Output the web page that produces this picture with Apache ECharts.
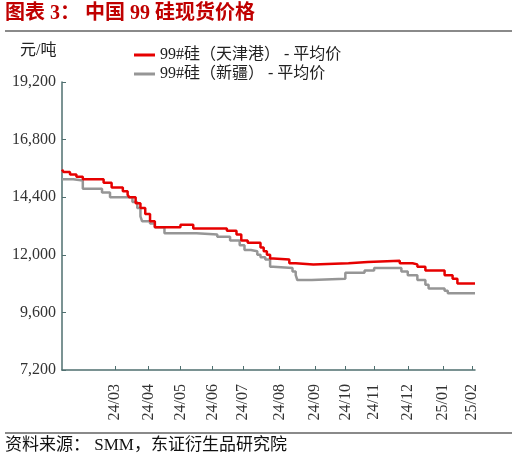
<!DOCTYPE html>
<html>
<head>
<meta charset="utf-8">
<script src="https://cdn.jsdelivr.net/npm/echarts@6/dist/echarts.min.js"></script>
<style>html,body{margin:0;padding:0;background:#fff;}#c{width:517px;height:462px;}</style>
</head>
<body>
<div id="c"></div>
<script>
// ---- data ----
var startDate = '2024-01-08';
var endDate = '2025-02-07';
var holidays = ['2024-02-09','2024-02-12','2024-02-13','2024-02-14','2024-02-15','2024-02-16',
  '2024-04-04','2024-04-05','2024-05-01','2024-05-02','2024-05-03','2024-06-10',
  '2024-09-16','2024-09-17','2024-10-01','2024-10-02','2024-10-03','2024-10-04','2024-10-07',
  '2025-01-01','2025-01-28','2025-01-29','2025-01-30','2025-01-31','2025-02-03','2025-02-04'];
var seriesNames = ['99#硅（天津港） - 平均价', '99#硅（新疆） - 平均价'];
// price change points [date, value]; price holds until next change
var tianjin = [
  ['2024-01-08',15550],['2024-01-09',15450],['2024-01-15',15350],['2024-01-19',15250],
  ['2024-01-25',15150],['2024-02-21',15000],['2024-02-28',14800],['2024-03-08',14650],
  ['2024-03-13',14500],['2024-03-14',14400],['2024-03-20',14150],['2024-03-25',13950],
  ['2024-03-28',13700],['2024-04-02',13400],['2024-04-09',13150],['2024-05-06',13250],
  ['2024-05-16',13100],['2024-06-17',13000],['2024-06-25',12850],['2024-06-28',12600],
  ['2024-07-04',12500],['2024-07-16',12300],['2024-07-18',12150],['2024-07-22',12000],
  ['2024-07-24',11850],['2024-07-26',11800],['2024-08-09',11650],['2024-08-15',11600],
  ['2024-08-30',11650],['2024-10-10',11700],['2024-10-28',11750],['2024-11-25',11650],
  ['2024-12-05',11600],['2024-12-10',11500],['2024-12-17',11350],['2025-01-03',11150],
  ['2025-01-10',11000],['2025-01-15',10800],['2025-02-07',10800]
];
var xinjiang = [
  ['2024-01-08',15150],['2024-01-17',15100],['2024-01-25',14750],['2024-02-20',14600],
  ['2024-02-27',14400],['2024-03-18',14200],['2024-03-21',13950],['2024-03-25',13600],
  ['2024-03-26',13400],['2024-04-02',13300],['2024-04-09',13150],['2024-04-17',12900],
  ['2024-05-20',12850],['2024-06-06',12750],['2024-06-19',12600],['2024-06-27',12400],
  ['2024-07-02',12200],['2024-07-08',12150],['2024-07-12',12000],['2024-07-16',11900],
  ['2024-07-19',11800],['2024-07-24',11500],['2024-07-26',11450],['2024-08-13',11300],
  ['2024-08-15',11150],['2024-08-16',10950],['2024-08-29',11000],['2024-10-08',11250],
  ['2024-10-24',11350],['2024-11-01',11450],['2024-11-26',11300],['2024-12-02',11150],
  ['2024-12-10',10950],['2024-12-17',10750],['2024-12-19',10600],['2025-01-03',10500],
  ['2025-01-07',10400],['2025-02-07',10400]
];
var yTicks = [7200, 9600, 12000, 14400, 16800, 19200];

// ---- trading-day categories ----
function fmt(d){ return d.toISOString().slice(0,10); }
var categories = [];
(function(){
  var d = new Date(startDate + 'T00:00:00Z'), e = new Date(endDate + 'T00:00:00Z');
  while (d <= e) {
    var wd = d.getUTCDay(), s = fmt(d);
    if (wd !== 0 && wd !== 6 && holidays.indexOf(s) < 0) categories.push(s);
    d = new Date(d.getTime() + 86400000);
  }
})();
function isMonthStart(i){
  if (i <= 0) return false;
  var c = categories[i];
  return c.slice(0,7) !== categories[i-1].slice(0,7) && c >= '2024-03-01';
}

var serif = '"Liberation Serif", "Noto Sans CJK SC", serif';
var chart = echarts.init(document.getElementById('c'), null, {renderer:'canvas'});
chart.setOption({
  animation: false,
  backgroundColor: '#fff',
  grid: {left: 62, right: 42, top: 82, bottom: 92, containLabel: false},
  legend: {
    orient: 'vertical', left: 129, top: 42, itemWidth: 21, itemHeight: 3, itemGap: 3,
    icon: 'rect', textStyle: {fontFamily: serif, fontSize: 16, color: '#222', lineHeight: 16}
  },
  xAxis: {
    type: 'category', data: categories, boundaryGap: false,
    axisLine: {lineStyle: {color: '#4f6f6f', width: 1.5}},
    axisTick: {inside: true, length: 4, interval: function(i){ return isMonthStart(i); }, lineStyle:{color:'#4f6f6f'}},
    axisLabel: {
      interval: function(i){ return isMonthStart(i); }, rotate: 90, margin: 14,
      fontFamily: serif, fontSize: 16, color: '#333',
      formatter: function(v){ return v.slice(2,4) + '/' + v.slice(5,7); }
    },
    splitLine: {show: false}
  },
  yAxis: {
    type: 'value', min: yTicks[0], max: yTicks[yTicks.length-1], interval: 2400,
    axisLine: {show: true, lineStyle: {color: '#4f6f6f', width: 1.5}},
    axisTick: {show: true, inside: true, length: 4, lineStyle:{color:'#4f6f6f'}},
    axisLabel: {fontFamily: serif, fontSize: 16, color: '#333', margin: 6,
      formatter: function(v){ return v.toLocaleString('en-US'); }},
    splitLine: {show: false}
  },
  series: [
    {name: seriesNames[0], type: 'line', step: 'end', data: tianjin, showSymbol: false,
     symbol: 'none', lineStyle: {color: '#e60000', width: 2.5}, itemStyle: {color: '#e60000'}, z: 3},
    {name: seriesNames[1], type: 'line', step: 'end', data: xinjiang, showSymbol: false,
     symbol: 'none', lineStyle: {color: '#969696', width: 2.5}, itemStyle: {color: '#969696'}, z: 2}
  ],
  graphic: [
    {type: 'text', left: 5, top: 4, style: {text: '图表 3： 中国 99 硅现货价格', fill: '#c00000',
      font: 'bold 20px ' + serif}},
    {type: 'rect', shape: {x: 5, y: 30, width: 507, height: 2}, style: {fill: '#8a8a8a'}},
    {type: 'text', left: 20, top: 43, style: {text: '元/吨', fill: '#222', font: '16px ' + serif}},
    {type: 'rect', shape: {x: 5, y: 432, width: 507, height: 2}, style: {fill: '#8a8a8a'}},
    {type: 'text', left: 5, top: 437, style: {text: '资料来源： SMM，东证衍生品研究院', fill: '#111',
      font: '17px ' + serif}}
  ]
});
</script>
</body>
</html>
